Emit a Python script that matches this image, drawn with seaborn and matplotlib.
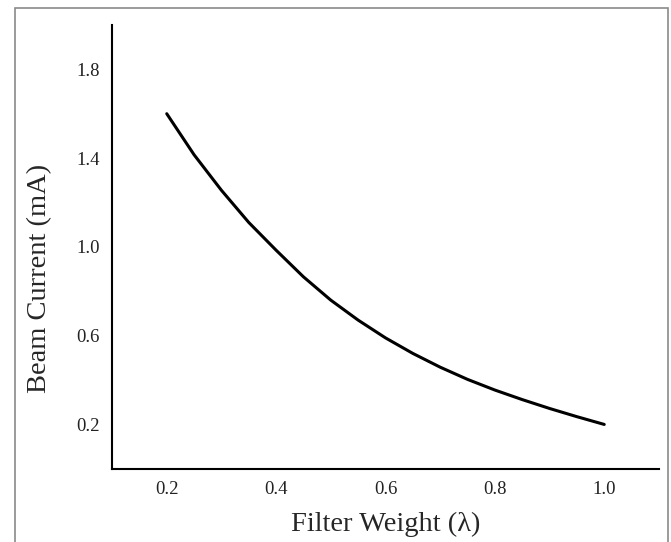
import matplotlib
matplotlib.use('Agg')
import matplotlib.pyplot as plt
import matplotlib.patches as patches
import seaborn as sns
import pandas as pd

# Values
filter_weight = [0.20, 0.25, 0.30, 0.35, 0.40, 0.45, 0.50, 0.55, 0.60,
                 0.65, 0.70, 0.75, 0.80, 0.85, 0.90, 0.95, 1.00]
beam_current = [1.60, 1.415, 1.255, 1.11, 0.985, 0.865, 0.76, 0.67, 0.59,
                0.52, 0.458, 0.403, 0.355, 0.312, 0.272, 0.235, 0.20]

x_ticks = [0.2, 0.4, 0.6, 0.8, 1.0]
y_ticks = [0.2, 0.6, 1.0, 1.4, 1.8]

sns.set_style('white')
plt.rcParams['font.family'] = ['Liberation Serif', 'DejaVu Serif']

df = pd.DataFrame({'Filter Weight': filter_weight,
                   'Beam Current': beam_current})

fig = plt.figure(figsize=(6.71, 5.42), dpi=100)
ax = fig.add_axes([0.167, 0.135, 0.815, 0.819])

sns.lineplot(data=df, x='Filter Weight', y='Beam Current', color='black',
             linewidth=2.2, ax=ax)

ax.set_xlim(0.1, 1.1)
ax.set_ylim(0.0, 2.0)
ax.set_xticks(x_ticks)
ax.set_yticks(y_ticks)
ax.set_xticklabels([f'{v:.1f}' for v in x_ticks], fontsize=13.5)
ax.set_yticklabels([f'{v:.1f}' for v in y_ticks], fontsize=13.5)
ax.tick_params(length=0, pad=9, colors='#222222')

ax.set_xlabel('Filter Weight (λ)', fontsize=20.5, labelpad=10)
ax.set_ylabel('Beam Current (mA)', fontsize=20.5)
# the y label sits a little below the middle of the axis
ax.yaxis.set_label_coords(-0.110, 0.43)

for side in ['top', 'right']:
    ax.spines[side].set_visible(False)
for side in ['left', 'bottom']:
    ax.spines[side].set_color('black')
    ax.spines[side].set_linewidth(1.5)

# Grey frame around the whole figure
frame = patches.Rectangle((15 / 671, -0.02), (668 - 15) / 671,
                          1.02 - 8 / 542, transform=fig.transFigure,
                          fill=False, edgecolor='#8a8a8a', linewidth=1.2)
fig.patches.append(frame)

fig.savefig('out.png', dpi=100)
